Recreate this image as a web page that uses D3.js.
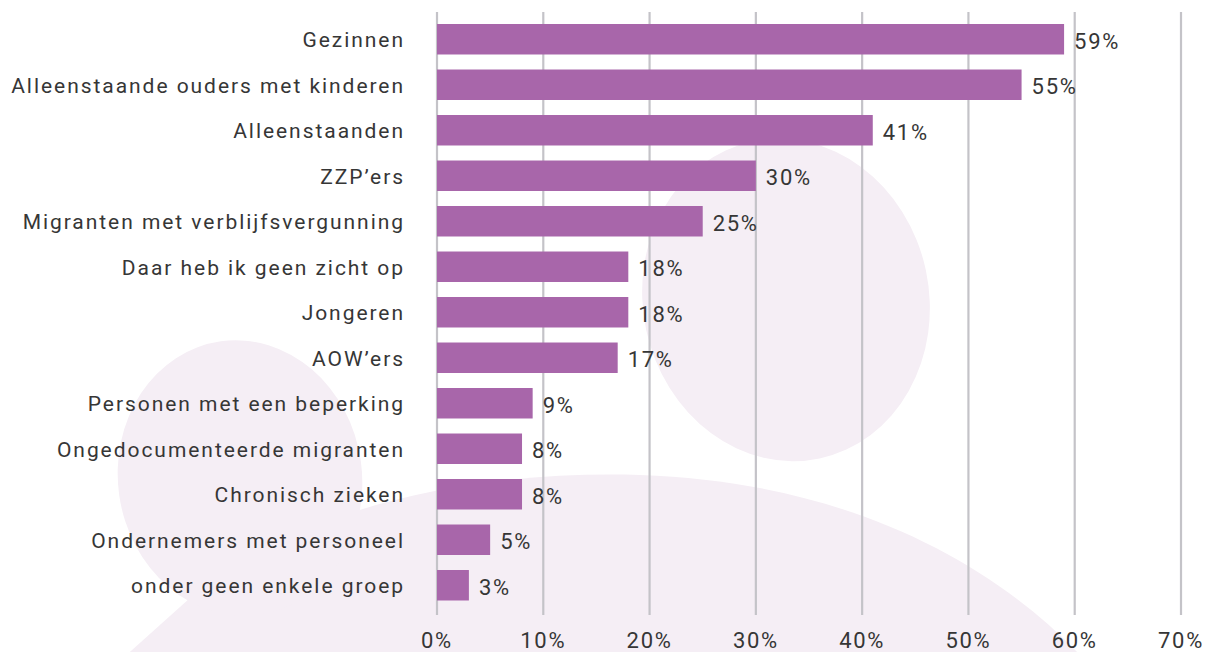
<!DOCTYPE html>
<html>
<head>
<meta charset="utf-8">
<script src="https://cdn.jsdelivr.net/npm/d3@7"></script>
<style>
  body { margin: 0; background: #fff; }
  text { font-family: Roboto, "Noto Sans", sans-serif; fill: #363636; }
</style>
</head>
<body>
<script>
var groups = [
  'Gezinnen',
  'Alleenstaande ouders met kinderen',
  'Alleenstaanden',
  'ZZP\u2019ers',
  'Migranten met verblijfsvergunning',
  'Daar heb ik geen zicht op',
  'Jongeren',
  'AOW\u2019ers',
  'Personen met een beperking',
  'Ongedocumenteerde migranten',
  'Chronisch zieken',
  'Ondernemers met personeel',
  'onder geen enkele groep'
];
var percentages = [59, 55, 41, 30, 25, 18, 18, 17, 9, 8, 8, 5, 3];
var ticks = [0, 10, 20, 30, 40, 50, 60, 70];

var width = 1207, height = 652;

var svg = d3.select('body')
  .append('svg')
  .attr('width', width)
  .attr('height', height);

// faint person silhouette in the background
var bg = svg.append('g').attr('fill', '#f5eef5');
bg.append('path')
  .attr('d', 'M 112 668 L 190 598 C 300 505, 480 470, 640 475 C 850 482, 1000 565, 1092 668 Z');
bg.append('ellipse')
  .attr('cx', 240).attr('cy', 478)
  .attr('rx', 122).attr('ry', 138)
  .attr('transform', 'rotate(-8 240 478)');
bg.append('ellipse')
  .attr('cx', 786).attr('cy', 300)
  .attr('rx', 143).attr('ry', 162)
  .attr('transform', 'rotate(-12 786 300)');

var x = d3.scaleLinear()
  .domain([0, 70])
  .range([437, 1181]);

var y = d3.scaleBand()
  .domain(groups)
  .range([16.5, 608])
  .paddingInner(0.33)
  .paddingOuter(0.165);

// gridlines
svg.append('g')
  .selectAll('line')
  .data(ticks)
  .enter()
  .append('line')
  .attr('x1', function (d) { return x(d); })
  .attr('x2', function (d) { return x(d); })
  .attr('y1', 12)
  .attr('y2', 615)
  .attr('stroke', '#c4c3c8')
  .attr('stroke-width', 2.2);

svg.append('g')
  .selectAll('rect')
  .data(percentages)
  .enter()
  .append('rect')
  .attr('x', x(0))
  .attr('y', function (d, i) { return y(groups[i]); })
  .attr('width', function (d) { return x(d) - x(0); })
  .attr('height', y.bandwidth())
  .attr('fill', '#a866aa');

// value labels
svg.append('g')
  .selectAll('text')
  .data(percentages)
  .enter()
  .append('text')
  .attr('x', function (d) { return x(d) + 10; })
  .attr('y', function (d, i) { return y(groups[i]) + y.bandwidth() / 2 + 9.5; })
  .attr('font-size', 22)
  .attr('letter-spacing', 1.7)
  .text(function (d) { return d + '%'; });

// category labels
svg.append('g')
  .selectAll('text')
  .data(groups)
  .enter()
  .append('text')
  .attr('x', 405)
  .attr('y', function (d) { return y(d) + y.bandwidth() / 2 + 8; })
  .attr('text-anchor', 'end')
  .attr('font-size', 21)
  .attr('letter-spacing', 1.95)
  .text(function (d) { return d; });

// axis tick labels
svg.append('g')
  .selectAll('text')
  .data(ticks)
  .enter()
  .append('text')
  .attr('x', function (d) { return x(d); })
  .attr('y', 648)
  .attr('text-anchor', 'middle')
  .attr('font-size', 22)
  .attr('letter-spacing', 1.7)
  .text(function (d) { return d + '%'; });
</script>
</body>
</html>
